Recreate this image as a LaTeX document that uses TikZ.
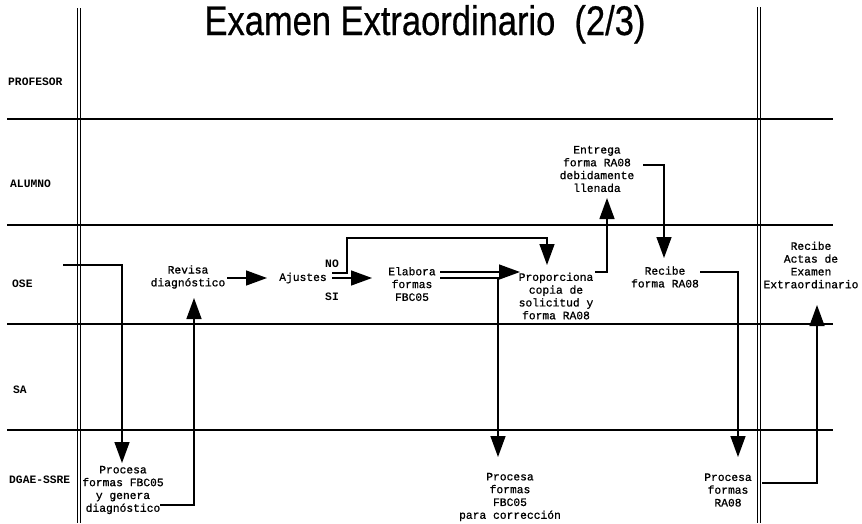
\documentclass[tikz,border=0pt]{standalone}
\usepackage{fontspec}
\setmainfont{Liberation Sans}
\newfontfamily\monofam[FakeBold=0.9]{Liberation Mono}
\newfontfamily\monobold{Liberation Mono Bold}
\newfontfamily\titlefam[FakeBold=0.6]{Liberation Sans}
\usetikzlibrary{arrows.meta}

\newcommand{\boxfont}{\monofam\fontsize{11.3}{12.8}\selectfont}
\newcommand{\lanefont}{\monobold\fontsize{11.3}{12}\selectfont}

\tikzset{
  lane/.style={line width=1.3pt},
  pool/.style={line width=1pt},
  lanelabel/.style={anchor=west, inner sep=0pt, font=\lanefont},
  task/.style={align=center, inner sep=0pt, font=\boxfont},
  branch/.style={inner sep=0pt, font=\lanefont},
  flow/.style={line width=1.4pt, -{Triangle[length=21pt,width=15pt]}},
  plain/.style={line width=1.4pt}
}

\begin{document}
\begin{tikzpicture}[x=1pt,y=-1pt]
  \useasboundingbox (0,0) rectangle (862,523);

  % title
  \node[anchor=base, inner sep=0pt, font=\titlefam\fontsize{34.5}{40}\selectfont] (title) at (425,35)
    {\scalebox{1}[1.2]{Examen Extraordinario\ \ (2/3)}};

  % swimlane separators
  \draw[lane] (7,119) -- (833,119);
  \draw[lane] (7,225) -- (833,225);
  \draw[lane] (7,324) -- (833,324);
  \draw[lane] (7,430) -- (833,430);

  % double column rules
  \draw[pool] (77,8) -- (77,523);
  \draw[pool] (80,8) -- (80,523);
  \draw[pool] (757,7) -- (757,523);
  \draw[pool] (760,7) -- (760,523);

  % lane names
  \node[lanelabel] (lProf) at (8,82)   {PROFESOR};
  \node[lanelabel] (lAlum) at (10,184) {ALUMNO};
  \node[lanelabel] (lOse)  at (12,284) {OSE};
  \node[lanelabel] (lSa)   at (13,390) {SA};
  \node[lanelabel] (lDgae) at (9,480)  {DGAE-SSRE};

  % activities
  \node[task] (revisa) at (188,277) {Revisa\\diagnóstico};
  \node[task] (ajustes) at (303,278) {Ajustes};
  \node[branch] (no) at (332,264) {NO};
  \node[branch] (si) at (332,297) {SI};
  \node[task] (elabora) at (412,284) {Elabora\\formas\\FBC05};
  \node[task] (proporciona) at (556,296) {Proporciona\\copia de\\solicitud y\\forma RA08};
  \node[task] (entrega) at (597,169) {Entrega\\forma RA08\\debidamente\\llenada};
  \node[task] (recibeRA) at (665,277) {Recibe\\forma RA08};
  \node[task] (recibeActas) at (811,265) {Recibe\\Actas de\\Examen\\Extraordinario};
  \node[task] (procesaFBC) at (123,490) {Procesa\\formas FBC05\\y genera\\diagnóstico};
  \node[task] (procesaCorr) at (510,497) {Procesa\\formas\\FBC05\\para corrección};
  \node[task] (procesaRA) at (728,490) {Procesa\\formas\\RA08};

  \coordinate (inStart) at (63,265);

  % connectors
  \draw[flow] (inStart) -| ([shift={(-1,-27)}]procesaFBC.center);
  \draw[flow] ([shift={(37,15)}]procesaFBC.center) -| ([shift={(6,21)}]revisa.center);
  \draw[flow] ([shift={(39,1)}]revisa.center) -- ([shift={(-36,0)}]ajustes.center);
  \draw[flow] ([shift={(29,-5)}]ajustes.center) -- ++(15,0) -- ++(0,-35)
              -| ([shift={(-9,-31)}]proporciona.center);
  \draw[flow] ([shift={(29,0)}]ajustes.center) -- ([shift={(-40,-6)}]elabora.center);
  \draw[flow] ([shift={(28,-12)}]elabora.center) -- ([shift={(-36,-24)}]proporciona.center);
  \draw[flow] ([shift={(28,-6)}]elabora.center) -| ([shift={(-12,-40)}]procesaCorr.center);
  \draw[flow] ([shift={(39,-24)}]proporciona.center) -| ([shift={(10,29)}]entrega.center);
  \draw[flow] ([shift={(46,-4)}]entrega.center) -| ([shift={(-1,-19)}]recibeRA.center);
  \draw[flow] ([shift={(35,-5)}]recibeRA.center) -| ([shift={(10,-33)}]procesaRA.center);
  \draw[flow] ([shift={(34,-7)}]procesaRA.center) -| ([shift={(6,40)}]recibeActas.center);
\end{tikzpicture}
\end{document}
